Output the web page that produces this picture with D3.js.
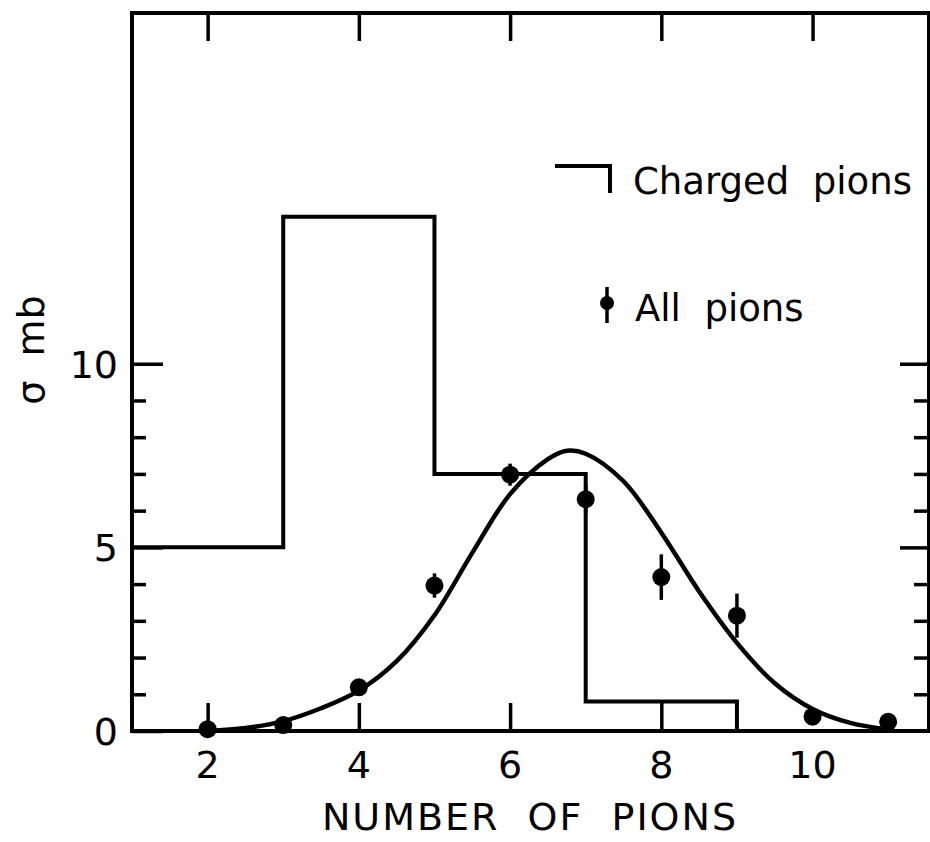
<!DOCTYPE html>
<html>
<head>
<meta charset="utf-8">
<script src="https://cdn.jsdelivr.net/npm/d3@7/dist/d3.min.js"></script>
<style>
  html, body { margin: 0; padding: 0; background: #fff; }
  svg { display: block; }
  text { font-family: "DejaVu Sans", sans-serif; fill: #000; white-space: pre; }
</style>
</head>
<body>
<svg id="chart" width="930" height="842"></svg>
<script>
// ---- data ----
const histEdges = [1, 3, 5, 7, 9];          // charged pions bin edges
const histValues = [5, 14, 7, 0.8];         // charged pions sigma (mb)

const pionN = [2, 3, 4, 5, 6, 7, 8, 9, 10, 11];            // all pions
const pionSigma = [0.05, 0.16, 1.19, 3.96, 6.98, 6.31, 4.19, 3.14, 0.39, 0.25];
const pionErr = [0, 0, 0, 0.33, 0.3, 0.4, 0.62, 0.6, 0, 0];

const curveX = [2, 2.5, 3, 3.5, 4, 4.5, 5, 5.5, 6, 6.5, 6.75, 7, 7.5, 8, 8.5, 9, 9.5, 10, 10.5, 11];
const curveY = [0.0, 0.08, 0.27, 0.62, 1.1, 1.9, 3.15, 4.85, 6.45, 7.4, 7.63, 7.55, 6.8, 5.4, 3.8, 2.4, 1.3, 0.6, 0.22, 0.04];

const xTicks = [2, 4, 6, 8, 10];
const xBottomTicks = [2, 4, 6, 8];
const yLabelTicks = [0, 5, 10];
const yMinorTicks = [1, 2, 3, 4, 6, 7, 8, 9];
const xTitle = "NUMBER  OF  PIONS";
const yTitle = "σ  mb";
const legendLabels = ["Charged  pions", "All  pions"];

// ---- layout ----
const svg = d3.select("#chart");
const L = 132, R = 929, T = 13, B = 731;
const x = d3.scaleLinear().domain([1, 11.54]).range([L, R]);
const y = d3.scaleLinear().domain([0, 19.55]).range([B, T]);

const SW = 4;

// frame
svg.append("rect")
  .attr("x", L).attr("y", T).attr("width", R - L).attr("height", B - T)
  .attr("fill", "none").attr("stroke", "#000").attr("stroke-width", SW);

function styleAxis(g) {
  g.select(".domain").remove();
  g.selectAll(".tick line").attr("stroke", "#000").attr("stroke-width", 3.5);
}
svg.append("g").attr("transform", `translate(0,${B})`)
  .call(d3.axisTop(x).tickValues(xBottomTicks).tickSize(28).tickFormat("")).call(styleAxis);
svg.append("g").attr("transform", `translate(0,${T})`)
  .call(d3.axisBottom(x).tickValues(xTicks).tickSize(28).tickFormat("")).call(styleAxis);

// left: major (0,5,10) long, minor short
svg.append("g").attr("transform", `translate(${L},0)`)
  .call(d3.axisRight(y).tickValues(yLabelTicks).tickSize(31).tickFormat("")).call(styleAxis);
svg.append("g").attr("transform", `translate(${L},0)`)
  .call(d3.axisRight(y).tickValues(yMinorTicks).tickSize(14).tickFormat("")).call(styleAxis);
// right
svg.append("g").attr("transform", `translate(${R},0)`)
  .call(d3.axisLeft(y).tickValues([5, 10]).tickSize(29).tickFormat("")).call(styleAxis);
svg.append("g").attr("transform", `translate(${R},0)`)
  .call(d3.axisLeft(y).tickValues(yMinorTicks).tickSize(15).tickFormat("")).call(styleAxis);

// tick labels
svg.append("g").selectAll("text").data(xTicks).join("text")
  .attr("x", d => x(d)).attr("y", 778)
  .attr("text-anchor", "middle").attr("font-size", 38)
  .text(d => d);
svg.append("g").selectAll("text").data(yLabelTicks).join("text")
  .attr("x", 118).attr("y", d => y(d) + 14)
  .attr("text-anchor", "end").attr("font-size", 38)
  .text(d => d);

// axis titles
svg.append("text").attr("x", 530).attr("y", 830)
  .attr("text-anchor", "middle").attr("font-size", 38).attr("letter-spacing", 2)
  .text(xTitle);
svg.append("text").attr("transform", "translate(44,350) rotate(-90)")
  .attr("text-anchor", "middle").attr("font-size", 38)
  .text(yTitle);

// histogram (charged pions)
const histPts = histEdges.map((e, i) => [e, i < histValues.length ? histValues[i] : 0]);
svg.append("path")
  .datum(histPts)
  .attr("d", d3.line().x(d => x(d[0])).y(d => y(d[1])).curve(d3.curveStepAfter))
  .attr("fill", "none").attr("stroke", "#000").attr("stroke-width", SW)
  .attr("stroke-linejoin", "miter");

// fitted curve
const cpts = curveX.map((v, i) => [v, curveY[i]]);
svg.append("path")
  .datum(cpts)
  .attr("d", d3.line().x(d => x(d[0])).y(d => y(d[1])).curve(d3.curveCatmullRom.alpha(0.5)))
  .attr("fill", "none").attr("stroke", "#000").attr("stroke-width", 4.5);

// data points with error bars
const pts = pionN.map((n, i) => ({ n, s: pionSigma[i], e: pionErr[i] }));
const pg = svg.append("g");
pg.selectAll("line").data(pts.filter(d => d.e > 0)).join("line")
  .attr("x1", d => x(d.n)).attr("x2", d => x(d.n))
  .attr("y1", d => y(d.s - d.e)).attr("y2", d => y(d.s + d.e))
  .attr("stroke", "#000").attr("stroke-width", 3.5);
pg.selectAll("circle").data(pts).join("circle")
  .attr("cx", d => x(d.n)).attr("cy", d => y(d.s)).attr("r", 9)
  .attr("fill", "#000");

// legend
const lg = svg.append("g");
lg.append("path").attr("d", "M555,166 H610 V193")
  .attr("fill", "none").attr("stroke", "#000").attr("stroke-width", SW);
lg.append("text").attr("x", 633).attr("y", 194).attr("font-size", 37).text(legendLabels[0]);
lg.append("line").attr("x1", 607).attr("x2", 607).attr("y1", 287).attr("y2", 323)
  .attr("stroke", "#000").attr("stroke-width", 3.5);
lg.append("circle").attr("cx", 607).attr("cy", 303).attr("r", 7).attr("fill", "#000");
lg.append("text").attr("x", 635).attr("y", 321).attr("font-size", 37).text(legendLabels[1]);
</script>
</body>
</html>
